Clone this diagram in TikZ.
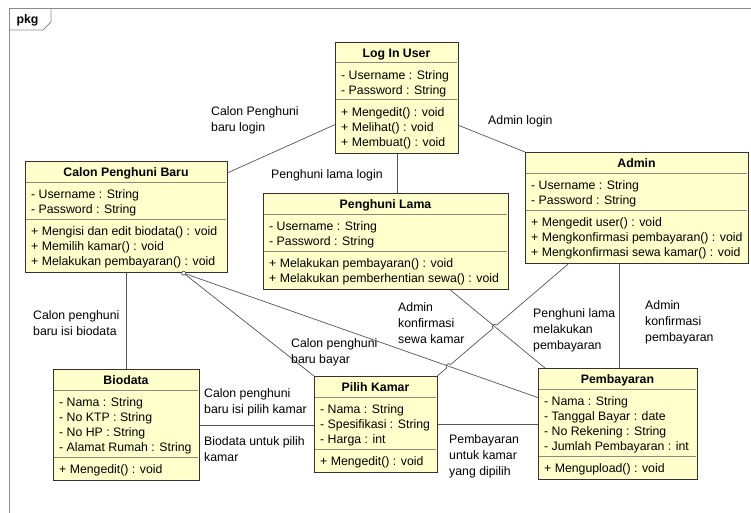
\documentclass[tikz,border=0pt]{standalone}
\usepackage{fontspec}
\setmainfont{Liberation Sans}
\usetikzlibrary{calc,intersections}

\definecolor{classfill}{HTML}{FFFFCC}
\definecolor{classline}{HTML}{333333}
\definecolor{sepcol}{HTML}{8C8C78}
\definecolor{linkcol}{HTML}{555555}
\definecolor{framecol}{HTML}{8C8C8C}

\tikzset{
  umltext/.style={font=\fontsize{12.3}{16}\selectfont, inner sep=0pt},
  classbox/.style={draw=classline, fill=classfill, line width=1.2pt, inner sep=0pt, rectangle},
  classtitle/.style={umltext, font=\fontsize{12.3}{16}\selectfont\bfseries, text height=8.8pt, text depth=0pt},
  member/.style={umltext, anchor=west, text height=8.8pt, text depth=0pt},
  sepline/.style={draw=sepcol, line width=1pt},
  link/.style={draw=linkcol, line width=0.7pt},
  linklabel/.style={umltext, anchor=north west, align=left},
  framerule/.style={draw=framecol, line width=0.8pt},
}

% #1 name, #2 left, #3 top, #4 width, #5 title,
% #6 number of attributes, #7 number of operations, #8 attributes, #9 operations
\newcommand\umlclass[9]{%
  \pgfmathsetmacro\boxh{36+15*(#6+#7)}
  \node[classbox, anchor=north west, minimum width=#4pt, minimum height=\boxh pt] (#1) at (#2,#3) {};
  \node[classtitle] (#1-name) at ({#2+#4/2},{#3+11}) {#5};
  \draw[sepline] ({#2+0.6},{#3+21}) -- ++(#4-1.2,0);
  \foreach \entry [count=\i] in {#8}
    \node[member] (#1-a\i) at ({#2+6},{#3+33+15*(\i-1)}) {\entry};
  \draw[sepline] ({#2+0.6},{#3+28+15*#6}) -- ++(#4-1.2,0);
  \foreach \entry [count=\i] in {#9}
    \node[member] (#1-m\i) at ({#2+6},{#3+40+15*#6+15*(\i-1)}) {\entry};
}

\begin{document}
\begin{tikzpicture}[x=1pt, y=-1pt]
  \fill[white] (0,0) rectangle (751,513);
  \useasboundingbox (0,0) rectangle (751,513);

  % package frame and its tab
  \draw[framerule] (9,513) -- (9,8) -- (751,8);
  \draw[framerule] (9,30) -- (43,30) -- (51,22) -- (51,8);
  \node[classtitle] (pkg) at (27.5,19.5) {pkg};

  % classes
  \umlclass{login}{335}{42}{123}{Log In User}{2}{3}
    {- Username : String,- Password : String}
    {+ Mengedit() : void,+ Melihat() : void,+ Membuat() : void}
  \umlclass{calon}{25}{161}{202}{Calon Penghuni Baru}{2}{3}
    {- Username : String,- Password : String}
    {+ Mengisi dan edit biodata() : void,+ Memilih kamar() : void,+ Melakukan pembayaran() : void}
  \umlclass{lama}{263}{193}{245}{Penghuni Lama}{2}{2}
    {- Username : String,- Password : String}
    {+ Melakukan pembayaran() : void,+ Melakukan pemberhentian sewa() : void}
  \umlclass{admin}{525}{152}{223}{Admin}{2}{3}
    {- Username : String,- Password : String}
    {+ Mengedit user() : void,+ Mengkonfirmasi pembayaran() : void,+ Mengkonfirmasi sewa kamar() : void}
  \umlclass{biodata}{53}{369}{146}{Biodata}{4}{1}
    {- Nama : String,- No KTP : String,- No HP : String,- Alamat Rumah : String}
    {+ Mengedit() : void}
  \umlclass{pilih}{314}{376}{123}{Pilih Kamar}{3}{1}
    {- Nama : String,- Spesifikasi : String,- Harga : int}
    {+ Mengedit() : void}
  \umlclass{bayar}{538}{368}{159}{Pembayaran}{4}{1}
    {- Nama : String,- Tanggal Bayar : date,- No Rekening : String,- Jumlah Pembayaran : int}
    {+ Mengupload() : void}

  % associations
  \draw[link] ([yshift=-26.5pt]login.west) -- ([yshift=44.5pt]calon.east);
  \draw[link] (login.south) -- (login.south |- lama.north);
  \draw[link] ([yshift=-27.5pt]login.east) -- (admin.north west);
  \draw[link] (calon.south) -- (biodata.north);

  \coordinate (paypoint) at ([xshift=57pt]calon.south);
  \draw[link] (paypoint) -- (pilih.north west);
  \draw[link, name path=calonbayar] (paypoint) -- ([yshift=26.5pt]bayar.west);
  \draw[link, name path=lamabayar] ([xshift=64.5pt]lama.south) -- ([xshift=7pt]bayar.north west);
  \draw[link, fill=white] (paypoint) circle[radius=2pt];

  % admin to room choice, hopping over the two lines it crosses
  \coordinate (adminfoot) at ([xshift=43pt]admin.south west);
  \coordinate (pilihhead) at ([xshift=-1pt]pilih.north east);
  \path[name path=adminpilih] (adminfoot) -- (pilihhead);
  \path[name intersections={of=adminpilih and lamabayar, by=hopA}];
  \path[name intersections={of=adminpilih and calonbayar, by=hopB}];
  \draw[link] (adminfoot) -- ($(hopA)!2.5pt!(adminfoot)$)
    arc[start angle=40.6, end angle=220.6, radius=2.5pt]
    -- ($(hopB)!2.5pt!(adminfoot)$)
    arc[start angle=40.6, end angle=220.6, radius=2.5pt]
    -- (pilihhead);

  \draw[link] ([xshift=-17.5pt]admin.south) -- ([xshift=-17.5pt]admin.south |- bayar.north);
  \draw[link] (biodata.east) -- (biodata.east -| pilih.west);
  \draw[link] (pilih.east) -- (pilih.east -| bayar.west);

  % association labels
  \node[linklabel] (l-calonlogin) at (211,106.5) {Calon Penghuni\\baru login};
  \node[linklabel] (l-lamalogin) at (271,169.5) {Penghuni lama login};
  \node[linklabel] (l-adminlogin) at (488,115.5) {Admin login};
  \node[linklabel] (l-biodata) at (33,310.5) {Calon penghuni\\baru isi biodata};
  \node[linklabel] (l-calonbayar) at (291,338.5) {Calon penghuni\\baru bayar};
  \node[linklabel] (l-sewa) at (398,302) {Admin\\konfirmasi\\sewa kamar};
  \node[linklabel] (l-lamabayar) at (533,308.5) {Penghuni lama\\melakukan\\pembayaran};
  \node[linklabel] (l-konfbayar) at (645,300.5) {Admin\\konfirmasi\\pembayaran};
  \node[linklabel] (l-isipilih) at (204,388) {Calon penghuni\\baru isi pilih kamar};
  \node[linklabel] (l-biopilih) at (204,436.5) {Biodata untuk pilih\\kamar};
  \node[linklabel] (l-bayarpilih) at (449,434.5) {Pembayaran\\untuk kamar\\yang dipilih};
\end{tikzpicture}
\end{document}
